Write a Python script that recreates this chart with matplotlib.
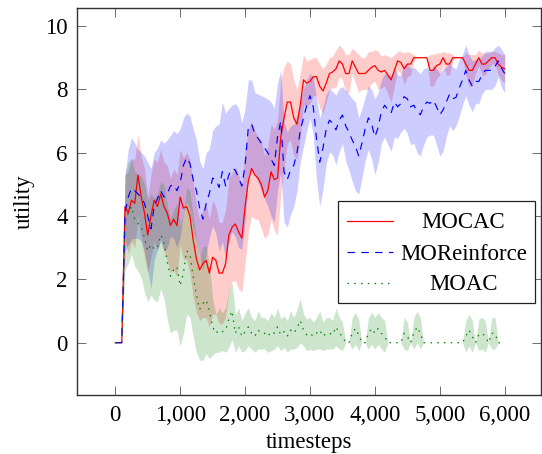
import numpy as np
import matplotlib
matplotlib.use("Agg")
import matplotlib.pyplot as plt
from matplotlib.ticker import FuncFormatter
from matplotlib.patches import Rectangle
from matplotlib.lines import Line2D

# ---------------- data ----------------
timesteps = np.arange(0, 6001, 50)

mocac_mean = [
    0, 0, 0, 4.3, 4.1, 4.5, 4.4, 5.3, 4.6, 4.1,
    3.4, 4.0, 4.5, 4.3, 4.7, 4.3, 4.1, 3.7, 3.9, 3.7,
    4.6, 4.25, 4.3, 4.0, 3.25, 2.65, 2.3, 2.5, 2.6, 2.2,
    2.7, 2.6, 2.2, 2.2, 2.5, 3.4, 3.65, 3.75, 3.5, 3.3,
    4.3, 5.1, 5.5, 5.3, 5.2, 5.0, 4.6, 4.8, 5.4, 5.15,
    5.2, 6.5, 7.1, 7.6, 7.6, 7.1, 6.9, 7.5, 8.3, 8.2,
    8.25, 8.4, 8.4, 8.1, 7.95, 8.2, 8.5, 8.55, 8.65, 8.9,
    8.8, 8.5, 8.5, 8.9, 8.7, 8.5, 8.5, 8.5, 8.6, 8.7,
    8.75, 8.6, 8.55, 8.6, 8.45, 8.3, 8.6, 8.9, 8.85, 8.65,
    8.8, 8.8, 9.0, 9.0, 9.0, 9.0, 9.0, 8.6, 8.6, 8.75,
    8.8, 9.0, 8.8, 8.8, 9.0, 9.0, 9.0, 9.0, 8.8, 8.6,
    8.6, 8.8, 9.0, 8.8, 8.8, 8.9, 9.0, 9.0, 8.8, 8.7,
    8.65]
mocac_std = [
    0, 0, 0, 1.0, 1.3, 1.3, 1.4, 1.3, 1.3, 1.4,
    1.2, 1.3, 1.3, 1.4, 1.4, 1.4, 1.5, 1.5, 1.6, 1.6,
    1.5, 1.6, 1.7, 1.8, 1.8, 1.7, 1.6, 1.7, 1.8, 1.7,
    1.8, 1.7, 1.6, 1.6, 1.7, 1.8, 1.7, 1.8, 1.8, 1.7,
    1.8, 1.6, 1.5, 1.4, 1.3, 1.4, 1.3, 1.4, 1.5, 1.6,
    1.8, 1.8, 1.6, 1.3, 1.2, 1.2, 1.1, 1.0, 0.8, 0.7,
    0.7, 0.6, 0.6, 0.7, 0.7, 0.6, 0.5, 0.5, 0.6, 0.5,
    0.5, 0.6, 0.6, 0.4, 0.5, 0.6, 0.5, 0.5, 0.6, 0.5,
    0.5, 0.6, 0.5, 0.5, 0.6, 0.7, 0.5, 0.3, 0.35, 0.5,
    0.4, 0.35, 0.1, 0, 0, 0, 0, 0.5, 0.5, 0.4,
    0.35, 0.2, 0.35, 0.35, 0.1, 0, 0, 0, 0.35, 0.5,
    0.5, 0.3, 0.25, 0.35, 0.35, 0.25, 0.2, 0.2, 0.35, 0.4,
    0.45]

moreinforce_mean = [
    0, 0, 0, 4.1, 4.6, 4.88, 4.8, 4.7, 4.6, 4.4,
    4.0, 3.6, 4.3, 4.55, 4.8, 4.6, 4.7, 4.95, 5.0, 4.8,
    5.05, 5.6, 5.85, 5.66, 5.15, 4.8, 4.25, 3.9, 4.4, 4.72,
    5.2, 5.15, 4.9, 5.4, 4.95, 5.3, 5.5, 5.45, 5.2, 4.95,
    5.6, 6.8, 6.9, 6.6, 6.45, 6.3, 6.15, 6.0, 5.8, 5.6,
    6.5, 7.0, 5.4, 5.15, 5.45, 5.6, 6.0, 6.7, 7.1, 7.5,
    7.8, 7.45, 6.45, 5.7, 6.15, 6.75, 7.03, 6.93, 6.72, 7.03,
    7.19, 6.85, 6.65, 6.4, 6.2, 5.9, 6.3, 6.75, 7.1, 6.9,
    6.5, 6.8, 7.3, 7.5, 7.35, 7.25, 7.6, 7.45, 7.55, 7.77,
    7.7, 7.45, 7.5, 7.3, 7.2, 7.45, 7.6, 7.56, 7.66, 7.45,
    7.2, 7.35, 7.6, 7.85, 7.7, 7.75, 8.05, 8.3, 8.6, 8.3,
    8.1, 8.25, 8.25, 8.45, 8.6, 8.6, 8.6, 8.72, 8.9, 8.67,
    8.5]
moreinforce_std = [
    0, 0, 0, 1.2, 1.5, 1.6, 1.5, 1.4, 1.4, 1.5,
    1.7, 1.9, 1.7, 1.6, 1.6, 1.7, 1.7, 1.6, 1.7, 1.8,
    1.7, 1.5, 1.4, 1.5, 1.6, 1.6, 1.5, 1.6, 1.6, 1.4,
    1.5, 1.7, 2.0, 2.2, 2.3, 2.1, 2.0, 2.1, 2.2, 2.0,
    1.8, 1.5, 1.4, 1.3, 1.4, 1.5, 1.6, 1.7, 1.8, 1.8,
    1.7, 1.6, 1.6, 1.5, 1.4, 1.3, 1.2, 1.0, 0.9, 0.8,
    0.7, 0.9, 1.3, 1.4, 1.3, 1.1, 1.0, 1.0, 1.1, 1.0,
    0.9, 1.1, 1.2, 1.3, 1.4, 1.2, 1.1, 1.0, 1.0, 1.1,
    1.2, 1.1, 1.0, 1.0, 1.1, 1.2, 1.1, 1.0, 0.9, 1.0,
    1.1, 1.2, 1.2, 1.3, 1.3, 1.2, 1.1, 1.0, 1.1, 1.2,
    1.3, 1.3, 1.1, 1.0, 1.0, 0.9, 0.9, 0.8, 0.8, 0.8,
    0.8, 0.7, 0.7, 0.6, 0.6, 0.6, 0.6, 0.6, 0.5, 0.6,
    0.6]

moac_mean = [
    0, 0, 0, 3.8, 4.1, 4.3, 3.9, 3.77, 3.66, 3.3,
    2.9, 3.1, 2.95, 3.0, 3.4, 3.2, 2.55, 2.1, 2.3, 2.4,
    1.8, 2.2, 2.9, 2.8, 2.1, 1.5, 1.05, 1.24, 1.35, 1.0,
    0.5, 0.3, 0.4, 0.35, 0.4, 0.75, 1.0, 0.3, 0.5, 0.2,
    0.35, 0.5, 0.3, 0.2, 0.4, 0.3, 0.3, 0.2, 0.35, 0.3,
    0.5, 0.25, 0.35, 0.2, 0.4, 0.3, 0.45, 0.7, 0.4, 0.25,
    0.3, 0.2, 0.3, 0.4, 0.2, 0.3, 0.3, 0.25, 0.5, 0.3,
    0.2, 0, 0, 0.3, 0.45, 0.25, 0, 0, 0.3, 0.45,
    0.3, 0.45, 0.3, 0.2, 0, 0, 0, 0, 0, 0.3,
    0.2, 0, 0.3, 0.5, 0.3, 0, 0, 0, 0, 0,
    0, 0, 0, 0, 0, 0, 0, 0, 0.2, 0.4,
    0.2, 0, 0.25, 0.3, 0.2, 0, 0.3, 0.3, 0, 0,
    0]
moac_std = [
    0, 0, 0, 1.5, 1.6, 1.5, 1.5, 1.5, 1.6, 1.7,
    1.6, 1.6, 1.6, 1.7, 1.7, 1.8, 1.8, 1.8, 1.9, 2.0,
    1.9, 1.9, 2.0, 2.0, 1.9, 1.8, 1.6, 1.8, 1.7, 1.5,
    0.9, 0.6, 0.7, 0.6, 0.7, 0.9, 0.9, 0.6, 0.6, 0.5,
    0.6, 0.6, 0.5, 0.5, 0.6, 0.5, 0.5, 0.5, 0.6, 0.5,
    0.6, 0.5, 0.5, 0.5, 0.6, 0.5, 0.6, 0.7, 0.5, 0.5,
    0.5, 0.45, 0.5, 0.6, 0.45, 0.5, 0.5, 0.45, 0.6, 0.5,
    0.45, 0, 0, 0.5, 0.5, 0.5, 0, 0, 0.5, 0.5,
    0.5, 0.5, 0.5, 0.5, 0, 0, 0, 0, 0, 0.5,
    0.45, 0, 0.5, 0.5, 0.5, 0, 0, 0, 0, 0,
    0, 0, 0, 0, 0, 0, 0, 0, 0.5, 0.5,
    0.5, 0, 0.5, 0.5, 0.5, 0, 0.5, 0.5, 0, 0,
    0]

series_names = ["MOCAC", "MOReinforce", "MOAC"]
x_ticks = [0, 1000, 2000, 3000, 4000, 5000, 6000]
y_ticks = [0, 2, 4, 6, 8, 10]

# ---------------- style ----------------
FONT = ["Liberation Serif", "DejaVu Serif"]
plt.rcParams["font.family"] = FONT
plt.rcParams["font.size"] = 16.5

W, H = 542, 454
fig = plt.figure(figsize=(W / 100, H / 100), dpi=100)
axL, axR, axT, axB = 77.3, 541.0, 8.3, 395.3
ax = fig.add_axes([axL / W, 1 - axB / H, (axR - axL) / W, (axB - axT) / H])

red = "#ff0000"
blue = "#0000ff"
green = "#008000"

styles = [
    (mocac_mean, mocac_std, red, dict(linestyle="-", linewidth=0.9)),
    (moreinforce_mean, moreinforce_std, blue, dict(linestyle=(0, (6.3, 5.4)), linewidth=0.85)),
    (moac_mean, moac_std, green, dict(linestyle=(0, (1.2, 4.2)), linewidth=0.9)),
]

for mean, std, col, _ in styles:
    m = np.asarray(mean, float)
    s = np.asarray(std, float)
    ax.fill_between(timesteps, m - s, m + s, color=col, alpha=0.2, linewidth=0)

for (mean, std, col, ls), name in zip(styles, series_names):
    ax.plot(timesteps, mean, color=col, label=name, **ls)

ax.set_xlim(-585, 6559)
ax.set_ylim(-1.66, 10.56)
ax.set_xticks(x_ticks)
ax.set_yticks(y_ticks)
ax.xaxis.set_major_formatter(FuncFormatter(lambda v, p: f"{int(v):,}"))
ax.tick_params(direction="in", length=6.5, width=0.6, color="#555555",
               top=True, right=True, labelsize=16.5)
ax.tick_params(axis="x", pad=7)
ax.tick_params(axis="y", pad=7)
for sp in ax.spines.values():
    sp.set_linewidth(1.0)
    sp.set_color("#333333")

ax.set_xlabel("timesteps", fontsize=16.5, labelpad=4.5)
ax.set_ylabel("utility", fontsize=16.5)
ax.yaxis.set_label_coords((24.5 - axL) / (axR - axL), 0.5)
ax.yaxis.label.set_verticalalignment("center")

# ---------------- legend (pgfplots-like, centred text) ----------------
def fx(px):
    return px / W

def fy(py):
    return 1 - py / H

lx0, lx1, ly0, ly1 = 338.3, 535.0, 201.0, 302.5
fig.patches.append(Rectangle((fx(lx0), fy(ly1)), fx(lx1) - fx(lx0), fy(ly0) - fy(ly1),
                             transform=fig.transFigure, facecolor="white",
                             edgecolor="#222222", linewidth=0.9, zorder=5))
rows = [221.0, 252.0, 283.0]
for (mean, std, col, ls), name, ry in zip(styles, series_names, rows):
    fig.lines.append(Line2D([fx(347.3), fx(392.7)], [fy(ry), fy(ry)],
                            transform=fig.transFigure, color=col, zorder=6, **ls))
    fig.text(fx(463.3), fy(ry + 7.5), name, ha="center", va="baseline",
             fontsize=16.5, zorder=6)

fig.savefig("out.png", dpi=100)
